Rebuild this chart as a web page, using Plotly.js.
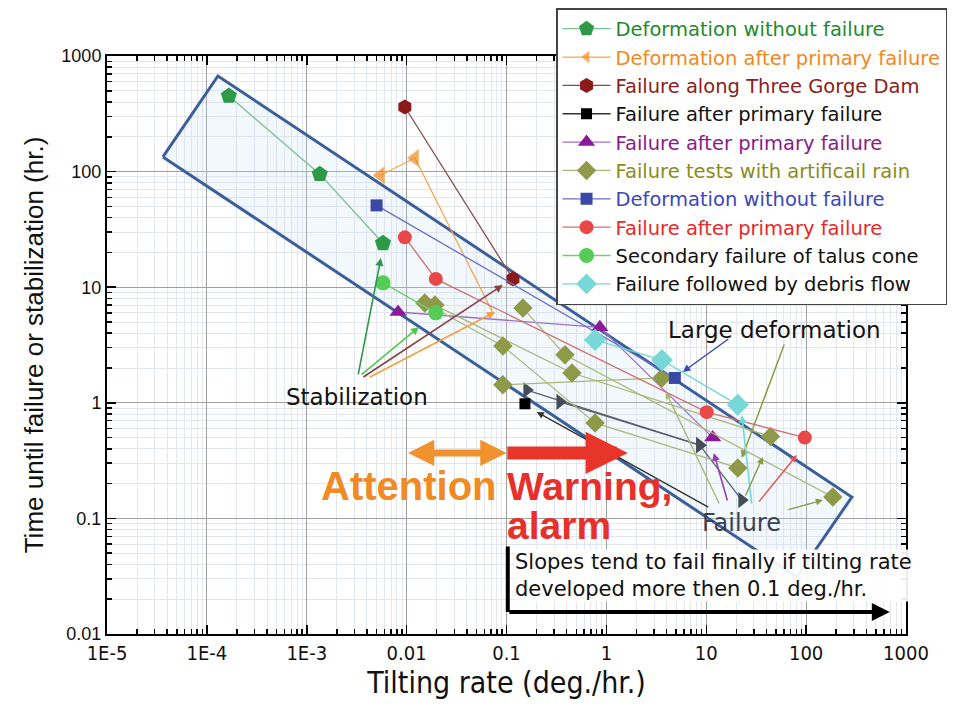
<!DOCTYPE html>
<html>
<head>
<meta charset="utf-8">
<script src="https://cdn.plot.ly/plotly-3.0.1.min.js"></script>
<style>html,body{margin:0;padding:0;background:#fff;}#chart{width:973px;height:709px;}</style>
</head>
<body>
<div id="chart"></div>
<script>
// ---------------- data ----------------
const xTickVals = [1e-5, 1e-4, 1e-3, 0.01, 0.1, 1, 10, 100, 1000];
const xTickText = ['1E-5', '1E-4', '1E-3', '0.01', '0.1', '1', '10', '100', '1000'];
const yTickVals = [0.01, 0.1, 1, 10, 100, 1000];
const yTickText = ['0.01', '0.1', '1', '10', '100', '1000'];

const seriesNames = [
  'Deformation without failure',
  'Deformation after primary failure',
  'Failure along Three Gorge Dam',
  'Failure after primary failure',
  'Failure after primary failure',
  'Failure tests with artificail rain',
  'Deformation without failure',
  'Failure after primary failure',
  'Secondary failure of talus cone',
  'Failure followed by debris flow'
];

const defNoFailA_x = [1.66e-4, 1.35e-3, 5.8e-3];
const defNoFailA_y = [451, 95, 24];

const defAfterPrim_x = [5.5e-3, 0.0121, 0.073];
const defAfterPrim_y = [93, 131, 6.0];

const threeGorge_x = [0.0096, 0.116];
const threeGorge_y = [362, 11.8];

const failAfterBlack_x = [0.153];
const failAfterBlack_y = [0.98];

const failAfterGray_x = [0.343, 8.6, 22.7, null, 0.16, 8.6];
const failAfterGray_y = [1.02, 0.43, 0.144, null, 1.29, 0.43];

const failAfterPurple_x = [0.0082, 0.86, 11.6];
const failAfterPurple_y = [6.1, 4.5, 0.50];

const rainTests_x = [0.0152, 0.092, 0.77, 20.7, null, 0.0192, 0.452, 44, null, 0.146, 0.385, 185, null, 0.092, 3.6];
const rainTests_y = [7.3, 3.1, 0.67, 0.273, null, 7.0, 1.81, 0.51, null, 6.6, 2.6, 0.153, null, 1.43, 1.64];

const defNoFailB_x = [5.0e-3, 4.85];
const defNoFailB_y = [51, 1.64];

const failAfterRed_x = [0.0096, 0.0196, 10.1, 97];
const failAfterRed_y = [27, 11.8, 0.83, 0.50];

const talus_x = [5.8e-3, 0.0196];
const talus_y = [10.9, 6.0];

const debris_x = [0.77, 3.6, 20.7];
const debris_y = [3.5, 2.34, 0.96];

// envelope band (rotated rectangle)
const band_x = [3.63e-5, 1.29e-4, 287, 80.7, 3.63e-5];
const band_y = [134, 671, 0.153, 0.0311, 134];

// ---------------- traces ----------------
function span(c, t) { return '<span style="color:' + c + '">' + t + '</span>'; }

const traces = [];
traces.push({
  x: band_x, y: band_y, mode: 'lines', fill: 'toself',
  fillcolor: 'rgba(200,222,240,0.22)', line: {color: '#3b5f9a', width: 3},
  showlegend: false, hoverinfo: 'skip'
});

function series(x, y, name, textColor, lineColor, markColor, symbol, size, extra) {
  const t = {
    x: x, y: y, mode: 'lines+markers', name: span(textColor, name),
    line: {color: lineColor, width: 1.3},
    marker: {symbol: symbol, size: size, color: markColor, line: {width: 0}},
    connectgaps: false
  };
  return Object.assign(t, extra || {});
}

traces.push(series(defNoFailA_x, defNoFailA_y, seriesNames[0], '#1e8a2a', '#7fbf8c', '#2e9a48', 'pentagon', 17));
traces.push(series(defAfterPrim_x, defAfterPrim_y, seriesNames[1], '#f0881e', '#f0a850', '#f08a20', 'triangle-left', 15,
  {marker: {symbol: 'triangle-left', size: [15, 15, 0], color: '#f08a20'}}));
traces.push(series(threeGorge_x, threeGorge_y, seriesNames[2], '#8b2020', '#8b4a4a', '#8b1a1a', 'hexagon', 15));
traces.push(series(failAfterBlack_x, failAfterBlack_y, seriesNames[3], '#111111', '#333333', '#000000', 'square', 11));
traces.push({
  x: failAfterGray_x, y: failAfterGray_y, mode: 'lines+markers', showlegend: false,
  line: {color: '#5a6270', width: 1.3}, marker: {symbol: 'triangle-right', size: 14, color: '#454d5a'},
  connectgaps: false
});
traces.push(series(failAfterPurple_x, failAfterPurple_y, seriesNames[4], '#8b1a8b', '#a070c8', '#8b1a9b', 'triangle-up', 15));
traces.push(series(rainTests_x, rainTests_y, seriesNames[5], '#8b8b1a', '#aab878', '#8f9a48', 'diamond', 15,
  {marker: {symbol: 'diamond', size: 15, color: '#8f9a48'}}));
traces.push(series(defNoFailB_x, defNoFailB_y, seriesNames[6], '#3a48b8', '#6a70c8', '#3a48a8', 'square', 12));
traces.push(series(failAfterRed_x, failAfterRed_y, seriesNames[7], '#e82828', '#d07070', '#e84848', 'circle', 14));
traces.push(series(talus_x, talus_y, seriesNames[8], '#111111', '#70d070', '#55cc55', 'circle', 15));
traces.push(series(debris_x, debris_y, seriesNames[9], '#111111', '#70d8d8', '#78d8d8', 'diamond', 17));

// ---------------- annotations ----------------
const L = Math.log10;
const LABEL_FONT = 'DejaVu Sans, Verdana, sans-serif';
const BOLD_FONT = 'Liberation Sans, Arial, sans-serif';
function arrow(xd, yd, ax, ay, color, width, extra) {
  return Object.assign({
    x: L(xd), y: L(yd), xref: 'x', yref: 'y', ax: ax, ay: ay, text: '',
    showarrow: true, arrowhead: 2, arrowsize: 1, arrowwidth: width || 1.5, arrowcolor: color
  }, extra || {});
}
function label(xd, yd, text, size, color, extra) {
  return Object.assign({
    x: L(xd), y: L(yd), xref: 'x', yref: 'y', text: text, showarrow: false,
    font: {family: LABEL_FONT, size: size, color: color}
  }, extra || {});
}

const annotations = [
  // Stabilization arrows
  arrow(5.53e-3, 17.9, -23, 118, '#2e9a48', 1.6),
  arrow(0.0133, 4.53, -59, 49, '#50c850', 1.6),
  arrow(0.092, 10.45, -141, 93, '#8b4040', 1.6),
  arrow(0.0766, 6.1, -127, 66, '#f0a040', 1.6),
  label(0.00318, 1.12, 'Stabilization', 23, '#111'),
  // Large deformation arrows
  arrow(5.83, 1.85, 47, -34, '#3a48b8', 1.5),
  arrow(22.7, 0.333, 43, -115, '#8f9a48', 1.5),
  label(48.6, 4.27, 'Large deformation', 23, '#111'),
  // Failure arrows
  arrow(0.201, 0.832, 173, 96, '#333', 1.4),
  arrow(3.94, 1.24, 54, 113, '#aab878', 1.4),
  arrow(11.9, 0.368, 14, 49, '#9040b0', 1.6),
  arrow(22.7, 0.783, 10, 90, '#70d8d8', 1.6),
  arrow(36.9, 0.34, -18, 40, '#8f9a48', 1.4),
  arrow(80.7, 0.353, -39, 48, '#e85050', 1.4),
  arrow(147, 0.144, -36, 10, '#8f9a48', 1.4),
  label(22.7, 0.091, 'Failure', 24, '#3a4252'),
  // Attention / warning arrows
  arrow(0.1, 0.368, -100, 0, '#f0922e', 7, {arrowside: 'end+start', arrowsize: 0.75}),
  arrow(1.64, 0.368, -122, 0, '#e8352a', 13, {arrowsize: 0.65}),
  label(0.0105, 0.19, '<b>Attention</b>', 40, '#f08a24', {font: {family: BOLD_FONT, size: 40, color: '#f08a24'}}),
  label(0.0964, 0.19, '<b>Warning,</b>', 39, '#e8302a',
    {xanchor: 'left', font: {family: BOLD_FONT, size: 39, color: '#e8302a'}}),
  label(0.0964, 0.086, '<b>alarm</b>', 39, '#e8302a',
    {xanchor: 'left', font: {family: BOLD_FONT, size: 39, color: '#e8302a'}}),
  // Bottom note with L-shaped arrow
  arrow(0.103, 0.0155, 0, -67, '#000', 4, {arrowhead: 0}),
  arrow(689, 0.0155, -382, 0, '#000', 4, {arrowhead: 2, arrowsize: 0.9}),
  label(0.1186, 0.0318, 'Slopes tend to fail finally if tilting rate<br>developed more then 0.1 deg./hr.', 21, '#111',
    {xanchor: 'left', align: 'left', bgcolor: 'rgba(255,255,255,0.92)', borderpad: 0})
];

// ---------------- axes ----------------
function minorVals(lo, hi) {
  const v = [];
  for (let e = lo; e < hi; e++) for (let m = 2; m <= 9; m++) v.push(m * Math.pow(10, e));
  return v;
}

const layout = {
  width: 973, height: 709,
  margin: {l: 107, r: 67, t: 56, b: 75, autoexpand: false},
  paper_bgcolor: '#ffffff', plot_bgcolor: '#ffffff',
  showlegend: true,
  legend: {
    x: 0.562, y: 1.083, xanchor: 'left', yanchor: 'top',
    bgcolor: '#ffffff', bordercolor: '#444', borderwidth: 1.5,
    font: {family: LABEL_FONT, size: 19.5, color: '#111'},
    traceorder: 'normal', itemwidth: 48
  },
  xaxis: {
    type: 'log', range: [-5, 3], automargin: false,
    tickmode: 'array', tickvals: xTickVals, ticktext: xTickText,
    ticks: 'inside', ticklen: 9, tickwidth: 1.5, tickcolor: '#000',
    showline: true, linewidth: 2, linecolor: '#000', mirror: 'ticks',
    showgrid: true, gridcolor: '#a0a0a0', gridwidth: 1, zeroline: false,
    minor: {tickmode: 'array', tickvals: minorVals(-5, 3), ticks: 'inside', ticklen: 5, tickcolor: '#000',
            showgrid: true, gridcolor: '#e2e7ee', gridwidth: 1},
    tickfont: {family: 'Liberation Sans Narrow, DejaVu Sans Condensed, Arial, sans-serif', size: 20, color: '#111'},
    title: {text: 'Tilting rate (deg./hr.)', standoff: 6,
            font: {family: 'Liberation Sans Narrow, DejaVu Sans Condensed, Arial, sans-serif', size: 30, color: '#111'}}
  },
  yaxis: {
    type: 'log', range: [-2, 3], automargin: false,
    tickmode: 'array', tickvals: yTickVals, ticktext: yTickText,
    ticks: 'inside', ticklen: 9, tickwidth: 1.5, tickcolor: '#000',
    showline: true, linewidth: 2, linecolor: '#000', mirror: 'ticks',
    showgrid: true, gridcolor: '#a0a0a0', gridwidth: 1, zeroline: false,
    minor: {tickmode: 'array', tickvals: minorVals(-2, 3), ticks: 'inside', ticklen: 5, tickcolor: '#000',
            showgrid: true, gridcolor: '#e2e7ee', gridwidth: 1},
    tickfont: {family: 'Liberation Sans, Arial, sans-serif', size: 18, color: '#111'},
    title: {text: 'Time until failure or stabilization (hr.)', standoff: 10,
            font: {family: 'Liberation Sans, Arial, sans-serif', size: 26, color: '#111'}}
  },
  annotations: annotations
};

Plotly.newPlot('chart', traces, layout, {displayModeBar: false, staticPlot: true});
</script>
</body>
</html>
